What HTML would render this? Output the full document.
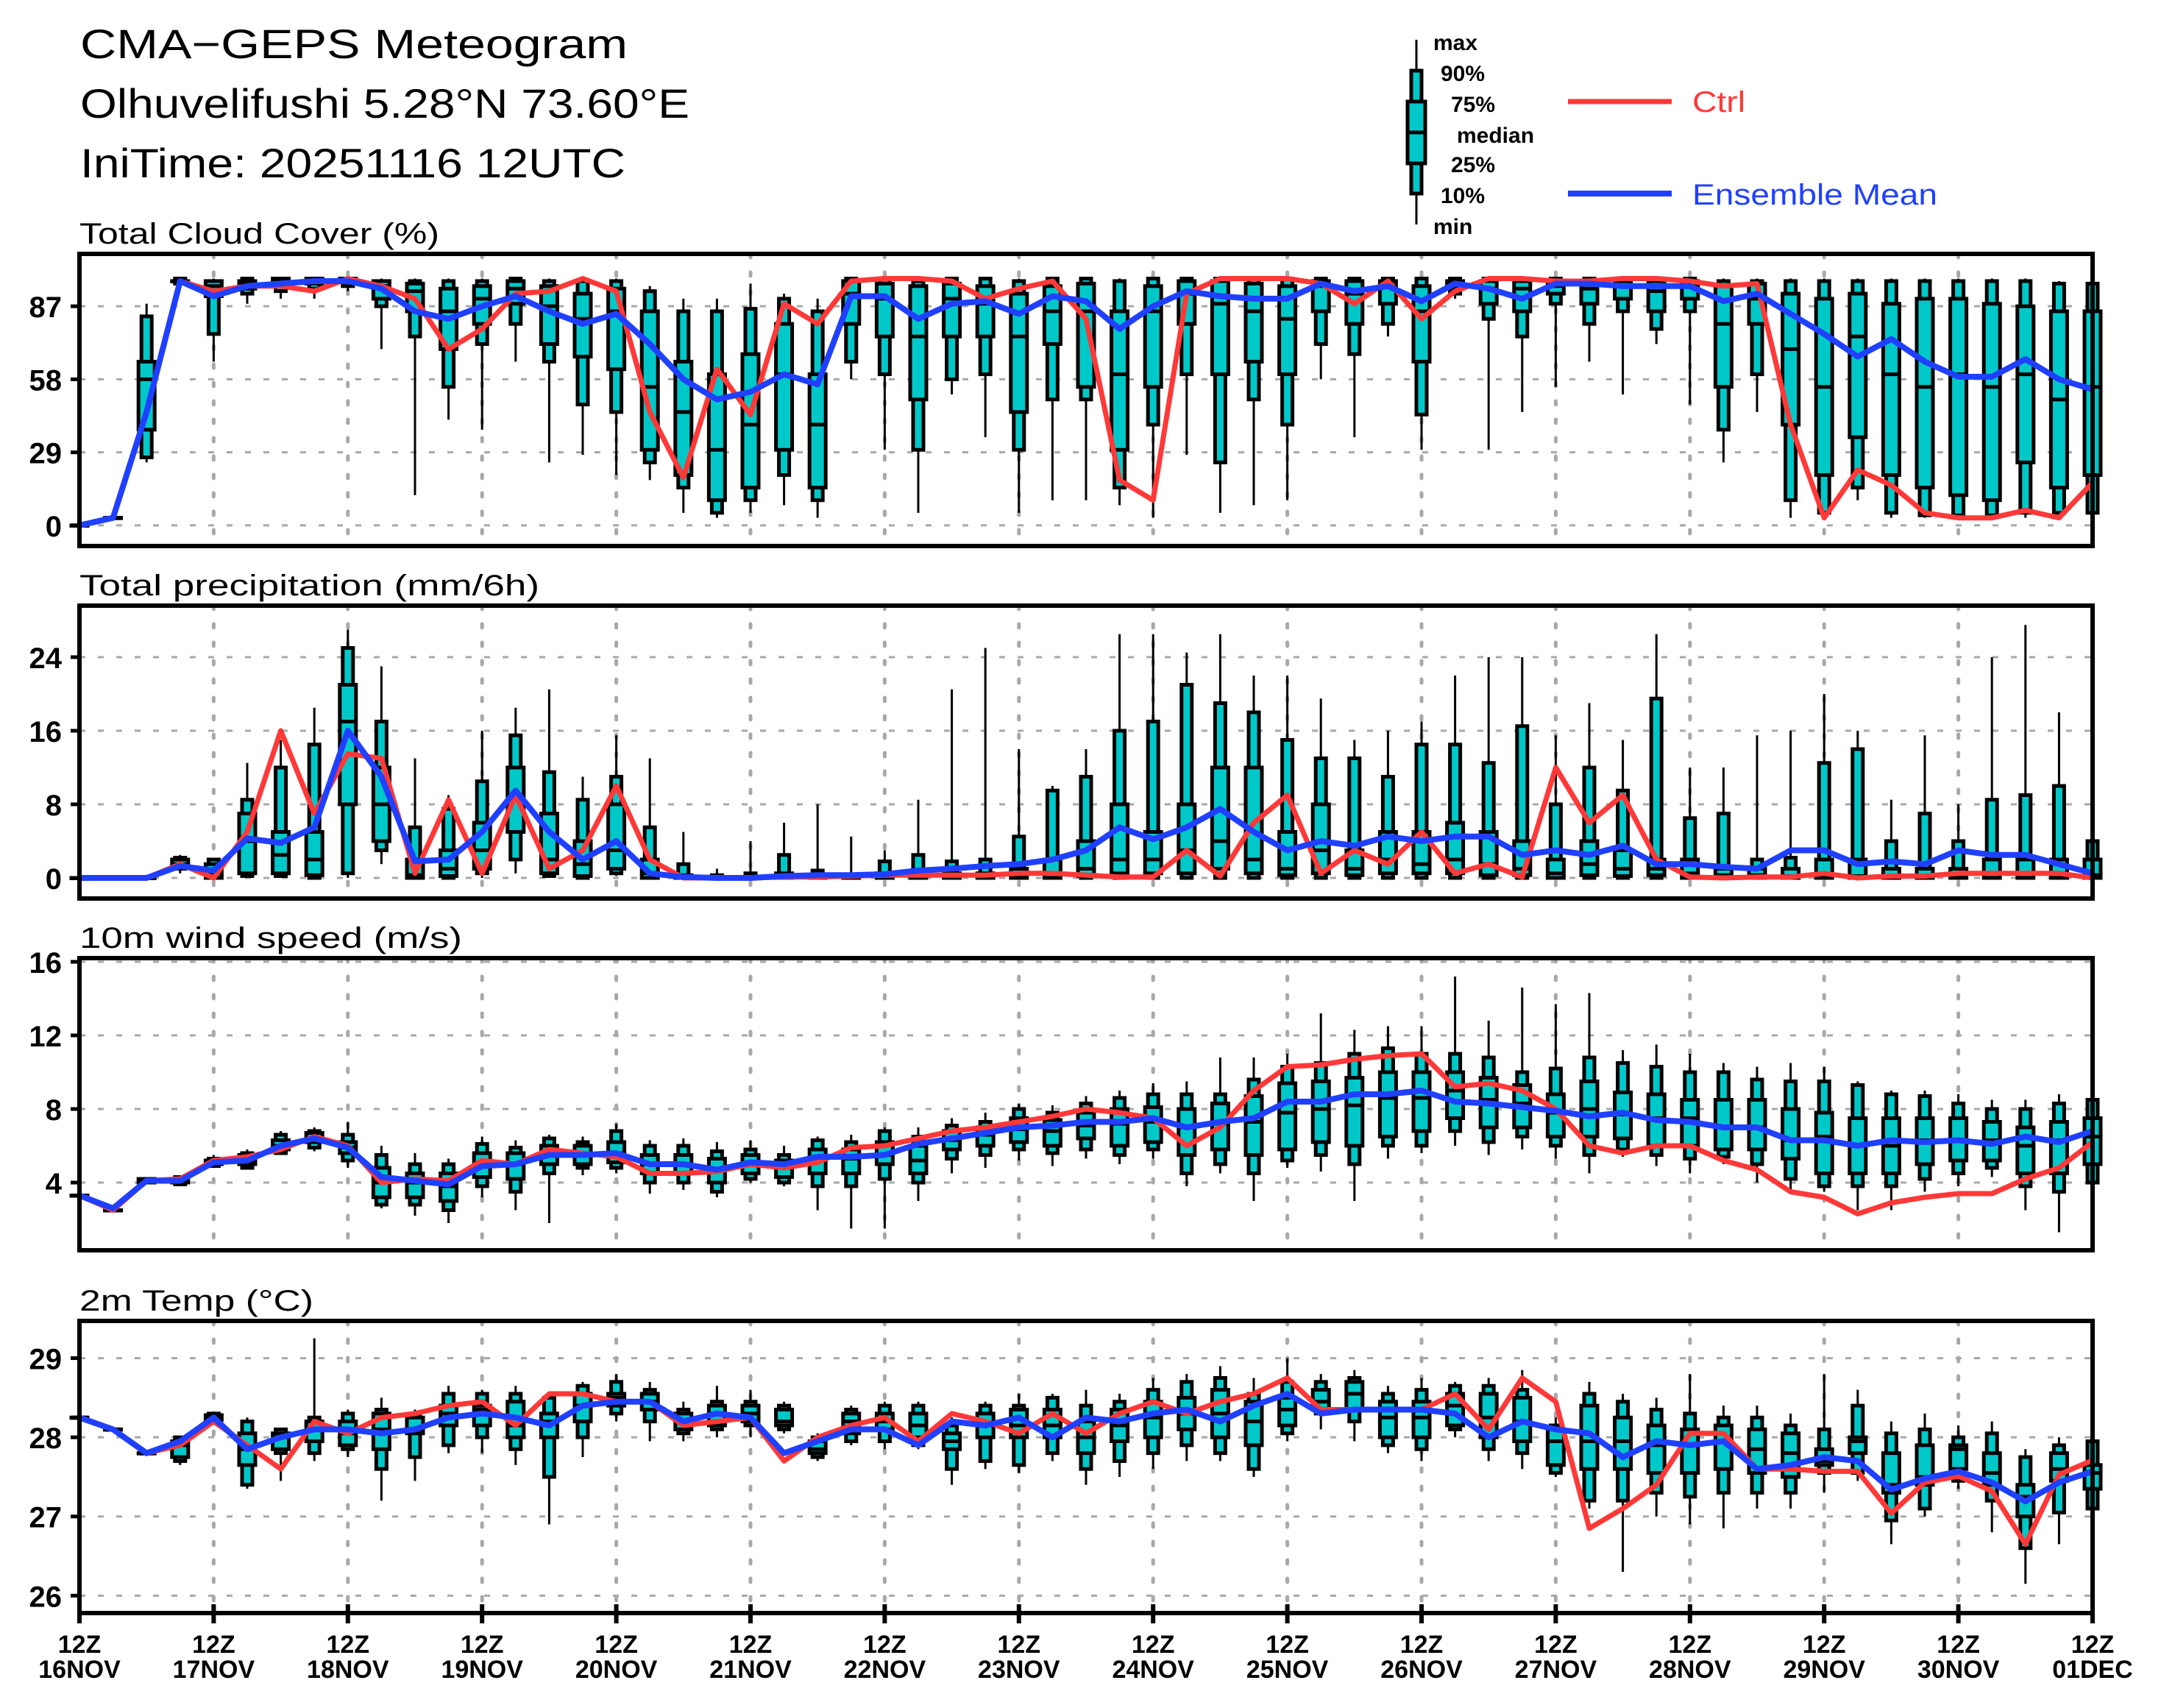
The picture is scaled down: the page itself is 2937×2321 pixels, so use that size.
<!DOCTYPE html>
<html><head><meta charset="utf-8"><title>CMA-GEPS Meteogram</title>
<style>
html,body{margin:0;padding:0;background:#fff;}
svg{display:block;}
text{font-family:"Liberation Sans",sans-serif;fill:#000;}
</style></head>
<body>
<svg id="chart" xmlns="http://www.w3.org/2000/svg" width="2937" height="2321" viewBox="0 0 2937 2321">
<rect x="0" y="0" width="2937" height="2321" fill="#fff"/>
<g>
<text x="109" y="79" font-size="56" textLength="744" lengthAdjust="spacingAndGlyphs">CMA−GEPS Meteogram</text>
<text x="109" y="160" font-size="56" textLength="828" lengthAdjust="spacingAndGlyphs">Olhuvelifushi 5.28°N 73.60°E</text>
<text x="109" y="241" font-size="56" textLength="741" lengthAdjust="spacingAndGlyphs">IniTime: 20251116 12UTC</text>
</g>
<g>
<line x1="1925" y1="54" x2="1925" y2="305" stroke="#000" stroke-width="3"/>
<rect x="1918" y="96" width="14" height="167" fill="#00C8C8" stroke="#000" stroke-width="5"/>
<rect x="1913" y="138" width="24" height="84" fill="#00C8C8" stroke="#000" stroke-width="5"/>
<line x1="1913" y1="180" x2="1937" y2="180" stroke="#000" stroke-width="5"/>
<g font-size="30" font-weight="bold">
<text x="1948" y="68">max</text>
<text x="1958" y="110">90%</text>
<text x="1972" y="152">75%</text>
<text x="1980" y="194">median</text>
<text x="1972" y="234">25%</text>
<text x="1958" y="276">10%</text>
<text x="1948" y="318">min</text>
</g>
<line x1="2131" y1="138" x2="2272" y2="138" stroke="#FF3838" stroke-width="7"/>
<text x="2300" y="152" font-size="40" style="fill:#FF3838" textLength="72" lengthAdjust="spacingAndGlyphs">Ctrl</text>
<line x1="2131" y1="263" x2="2272" y2="263" stroke="#2040FF" stroke-width="8"/>
<text x="2300" y="278" font-size="40" style="fill:#2040FF" textLength="333" lengthAdjust="spacingAndGlyphs">Ensemble Mean</text>
</g>
<g id="panels"></g>
</svg>
<script>
const dayLabels = ["16NOV","17NOV","18NOV","19NOV","20NOV","21NOV","22NOV","23NOV","24NOV","25NOV","26NOV","27NOV","28NOV","29NOV","30NOV","01DEC"];
const nSteps = 61;

const cloudTicks = [0,29,58,87];
const cloudCtrl = [0,3,45,97,93,95,95,93,98,95,90,70,78,92,93,98,93,45,19,62,44,88,80,97,98,98,97,90,94,97,82,18,10,92,98,98,98,96,88,97,82,93,98,98,97,97,98,98,97,95,96,40,3,22,16,5,3,3,6,3,17];
const cloudMean = [0,3,45,97,91,95,96,97,97,94,85,82,87,91,85,80,84,72,58,50,53,60,56,91,91,82,88,89,84,91,89,78,87,93,91,90,90,96,93,95,89,96,94,90,96,96,95,95,95,89,92,84,76,67,74,65,59,59,66,58,54];
const cloudMin = [0,3,25,96,65,88,90,90,93,70,12,42,38,65,25,28,20,18,5,3,5,8,3,58,30,5,52,35,5,10,10,8,3,28,5,8,10,58,35,75,30,90,30,45,55,65,52,72,48,25,45,3,3,10,3,3,3,3,3,3,3];
const cloudP10 = [0,3,27,96,76,92,93,94,95,87,75,55,72,80,65,48,45,25,15,5,10,20,10,65,60,30,58,60,30,50,50,15,40,60,25,50,40,72,68,80,44,92,82,75,88,80,85,78,85,38,60,10,5,15,5,4,4,4,5,5,5];
const cloudP25 = [0,3,38,97,91,94,95,96,97,90,85,70,80,88,72,67,62,30,20,10,15,30,15,80,75,50,75,75,45,72,55,30,55,80,60,65,60,85,80,88,65,94,88,85,92,88,90,85,90,55,80,40,20,35,20,15,12,10,25,15,20];
const cloudMed = [0,3,58,97,95,96,97,97,98,95,93,85,90,94,87,82,85,55,45,30,40,60,40,92,90,75,90,88,75,85,85,60,85,92,88,85,82,95,92,95,85,96,94,94,95,94,95,93,95,80,90,70,55,75,60,55,60,55,60,50,55];
const cloudP75 = [0,3,65,97,97,97,98,98,98,97,96,94,95,97,95,92,94,85,65,60,68,80,60,97,96,95,96,95,92,95,96,85,95,97,97,96,95,97,97,97,95,97,97,97,97,97,97,97,97,95,96,92,90,92,88,90,90,88,87,85,85];
const cloudP90 = [0,3,83,98,97,98,98,98,98,97,97,97,97,98,97,97,97,93,85,85,86,90,85,98,98,97,98,98,97,98,98,97,98,98,98,98,98,98,98,98,98,98,98,98,98,98,98,98,98,97,97,97,97,97,97,97,97,97,97,96,96];
const cloudMax = [0,3,88,98,98,98,98,98,98,98,98,98,98,98,98,98,98,95,90,90,96,92,90,98,98,98,98,98,98,98,98,98,98,98,98,98,98,98,98,98,98,98,98,98,98,98,98,98,98,98,98,98,98,98,98,98,98,98,98,97,97];

const precTicks = [0,8,16,24];
const precCtrl = [0,0,0,1.5,0,5,16,7,13.5,13,0.5,8.5,0.5,9,1,3,10,2,0,0,0,0.1,0.1,0.2,0.3,0.3,0.3,0.3,0.5,0.5,0.3,0.1,0.1,3,0.2,6,9,0.5,3,1.5,5,0.5,1.5,0.1,12,6,9,2,0.1,0,0.1,0.1,0.5,0,0.2,0.2,0.5,0.5,0.5,0.5,0];
const precMean = [0,0,0,1.3,0.8,4.3,3.8,5.5,16,11,1.8,2,5,9.5,5,2,4,0.5,0.1,0,0,0.2,0.3,0.3,0.4,0.8,1,1.3,1.5,2,3,5.5,4.2,5.5,7.5,5,3,4,3.5,4.5,4,4.5,4.5,2.5,3,2.5,3.5,1.5,1.5,1.2,1,3,3,1.5,1.8,1.5,3,2.5,2.5,1.5,0.5];
const precMin = [0,0,0,0.5,0,0,0,0,0,1.5,0,0,0,0.5,0,0,0.2,0,0,0,0,0,0,0,0,0,0,0,0,0,0,0,0,0,0,0,0,0,0,0,0,0,0,0,0,0,0,0,0,0,0,0,0,0,0,0,0,0,0,0,0];
const precP10 = [0,0,0,1,0,0.2,0.2,0,0.5,3,0,0,0.5,2,0.2,0,0.5,0,0,0,0,0,0,0,0,0,0,0,0,0,0,0,0,0,0,0,0,0,0,0,0,0,0,0,0,0,0,0,0,0,0,0,0,0,0,0,0,0,0,0,0];
const precP25 = [0,0,0,1.2,0,0.5,0.5,0.3,8,4,0,0.2,1,5,0.5,0.2,1,0,0,0,0,0,0,0,0,0,0,0,0,0,0.2,0.5,0.5,0.5,1,0.5,0.3,0.5,0.3,0.5,0.5,0.5,0.3,0.3,0,0.3,0.2,0.3,0,0,0,0,0,0,0,0,0,0,0,0,0];
const precMed = [0,0,0,1.5,0.5,4,2.5,2,17,8,0.3,1,3,9,2,1.5,3,0.5,0,0,0,0.1,0,0,0.2,0.2,0.2,0.2,0.2,0.5,1,2,2,3,4,2,1,3,1,2,1.5,2,1.5,1,0.5,1.5,1,1,0.5,0.3,0.3,0.2,0.3,0.2,0.2,0.2,0.2,0.5,0.5,0.5,0.3];
const precP75 = [0,0,0,2,1.5,7,5,5,21,12,2,3,6,12,7,4,8,2,0.3,0,0.1,0.5,0.1,0.1,0.5,0.5,0.5,0.5,1,2,4,8,5,8,12,12,5,8,3,5,5,6,5,4,2,4,3,2,2,1,1,1,2,2,1,1,1,2,2,2,2];
const precP90 = [0,0,0,2.2,2,8.5,12,14.5,25,17,5.5,7.5,10.5,15.5,11.5,8.5,11,5.5,1.5,0.3,0.5,2.5,0.8,0.3,1.8,2.5,1.8,2,4.5,9.5,11,16,17,21,19,18,15,13,13,11,14.5,14.5,12.5,16.5,8,12,9.5,19.5,6.5,7,2,2.2,12.5,14,4,7,4,8.5,9,10,4];
const precMax = [0,0,0,2.5,2.2,12.5,15,18.5,27,23,13,9,16,18.5,20.5,11,15.5,13,5,1,4,6,8,4.5,3,8.5,20.5,25,14,10,14,26.5,26.5,24.5,26.5,22,22,19.5,15,16,17,22,24,24,15.5,19,15,26.5,12,12,15.5,16,20,16,8.5,15.5,8,24,27.5,18,10];

const windTicks = [4,8,12,16];
const windCtrl = [3.3,2.5,4.1,4.2,5.2,5.4,5.8,6.5,6,4,4.2,4.1,5.2,5,5.8,5.6,5.4,4.5,4.5,4.6,5,4.8,5.1,5.9,6,6.4,6.8,7,7.3,7.6,8,7.8,7.5,6,7,9,10.3,10.4,10.7,10.9,11,9.2,9.4,9,8,6,5.6,6,6,5.2,4.7,3.5,3.2,2.3,2.9,3.2,3.4,3.4,4.2,4.8,6.2];
const windMean = [3.3,2.6,4.1,4.1,5.1,5.2,6,6.4,5.9,4.3,4.1,3.9,4.9,5,5.5,5.5,5.6,5,5,4.7,5.1,5,5.4,5.4,5.5,6.1,6.4,6.7,7,7.1,7.3,7.3,7.5,7,7.3,7.5,8.4,8.4,8.8,8.8,9,8.4,8.3,8.1,7.9,7.6,7.8,7.4,7.3,7,7,6.3,6.3,6,6.3,6.2,6.3,6.1,6.5,6.2,6.8];
const windMin = [3.3,2.5,3.9,3.8,4.8,4.7,5.5,5.7,4.8,2.6,2.2,1.8,3.2,2.5,1.8,4.4,4.5,3.4,3.6,3.2,4,3.8,2.5,1.5,1.5,3,4.5,4.8,5.2,4.9,5.3,5,5.3,3.8,4.5,3,4.8,4.6,3,5.3,5.6,6,5.5,5.8,5.3,4.5,5.4,4.9,4.5,5,4,3.5,3.5,2.5,2.5,3.5,3.8,4.3,2.5,1.3,2];
const windP10 = [3.3,2.5,4,3.9,4.9,4.8,5.6,5.9,5.2,2.8,2.8,2.5,3.8,3.5,4.5,4.8,4.8,4,4,3.5,4.2,4,3.8,3.8,4.2,4,5.3,5.5,5.8,5.6,5.8,5.5,5.8,4.5,5,4.5,5.2,5.5,5,6,6,6.8,6.2,6.5,6,5.5,5.8,5.5,5.3,5.4,5,4.2,3.8,3.8,3.8,4.2,4.5,4.8,3.8,3.5,4];
const windP25 = [3.3,2.5,4,4,5,5,5.8,6.2,5.6,3.2,3.2,3,4.3,4.2,5,5,5.1,4.5,4.5,4,4.5,4.3,4.5,4.5,5,4.5,5.8,6,6.2,6,6.4,6,6.2,5.5,5.8,5.5,5.8,6.2,6,6.5,6.8,7.5,7,7,6.5,6.5,6.4,6,6,5.8,5.8,5.3,4.5,4.5,4.5,5,5.2,5.2,4.5,4.5,5];
const windMed = [3.3,2.5,4.1,4.1,5.1,5.2,6,6.4,5.9,4,4,3.8,4.9,5,5.6,5.5,5.6,5,5,4.7,5,4.8,5.3,5.3,5.5,5.2,6.3,6.6,6.9,6.8,7.1,7.2,7.3,7,7.2,7.3,7.8,8,8.2,8.6,8.6,9,8.5,8.3,7.8,8,7.7,7.5,7.5,7,7,6.3,6.5,6,6,6.3,6.3,6.3,6,6.3,6.5];
const windP75 = [3.3,2.5,4.2,4.2,5.2,5.5,6.3,6.7,6.2,4.8,4.5,4.5,5.6,5.6,6,6,6.2,5.5,5.5,5.3,5.5,5.2,5.8,5.8,6.2,6,6.8,7,7.5,7.4,7.8,8,8.1,8,8.3,8.7,9.4,9.5,9.7,10,10,10,9.7,9.3,8.8,9.5,8.9,8.8,8.5,8.5,8.5,8,7.8,7.5,7.5,7.5,7.5,7.3,7,7.3,7.5];
const windP90 = [3.3,2.5,4.2,4.3,5.3,5.6,6.6,6.8,6.6,5.5,5,5,6.1,5.9,6.4,6.2,6.8,6,6,5.7,5.8,5.5,6.3,6.2,6.8,6.5,7.1,7.3,8,7.8,8.3,8.6,8.8,8.8,8.8,9.6,10.3,10.5,11,11.3,11,11,10.8,10,10.2,10.8,10.5,10.3,10,10,9.6,9.5,9.5,9.3,8.8,8.7,8.3,8,8,8.3,8.5];
const windMax = [3.3,2.5,4.2,4.4,5.5,5.8,6.8,7,7.3,6,5.6,5.3,6.5,6.3,6.6,6.5,7.2,6.3,6.4,6.2,6.3,6,6.5,6.6,7,7,7.5,7.8,8.3,8.2,8.7,9,9.4,9.5,10.8,10.8,11,13.2,12.3,12.5,12.5,15.2,12.8,14.6,13.7,14.3,11.2,11.5,11,10.5,10.3,10.5,10.3,9.5,9,9,8.8,8.5,8.5,8.8,8.6];

const tempTicks = [26,27,28,29];
const tempCtrl = [28.25,28.1,27.8,27.9,28.2,27.9,27.6,28.2,28.05,28.25,28.3,28.4,28.45,28.15,28.55,28.55,28.45,28.45,28.15,28.2,28.25,27.7,28.0,28.15,28.25,27.95,28.3,28.2,28.05,28.3,28.05,28.3,28.45,28.3,28.45,28.55,28.75,28.35,28.35,28.35,28.35,28.55,28.1,28.75,28.45,26.85,27.1,27.4,28.05,28.05,27.6,27.6,27.57,27.57,27.04,27.43,27.51,27.32,26.65,27.53,27.71];
const tempMean = [28.25,28.1,27.8,27.95,28.25,27.85,28.0,28.1,28.1,28.05,28.1,28.25,28.3,28.25,28.15,28.4,28.45,28.45,28.2,28.3,28.25,27.8,27.95,28.1,28.1,27.9,28.2,28.15,28.25,28.0,28.25,28.2,28.3,28.35,28.2,28.4,28.55,28.3,28.35,28.35,28.35,28.3,28.0,28.2,28.1,28.05,27.75,27.95,27.9,27.95,27.6,27.65,27.75,27.7,27.34,27.48,27.57,27.43,27.19,27.43,27.57];
const tempMin = [28.25,28.1,27.8,27.65,28.2,27.35,27.45,27.7,27.75,27.2,27.45,27.8,27.8,27.65,26.9,27.75,28.2,27.95,27.95,28,28,28.05,27.7,27.9,27.85,27.85,27.4,27.6,27.55,27.7,27.4,27.5,27.6,27.7,27.7,27.5,27.95,28.1,27.95,27.8,27.7,28.0,27.7,27.6,27.5,27.1,26.3,27.0,26.9,26.85,27.1,27.1,27.3,27.45,26.65,27.0,27.35,26.8,26.15,26.65,26.9];
const tempP10 = [28.25,28.1,27.8,27.7,28.2,27.4,27.8,27.8,27.85,27.6,27.75,27.9,28,27.85,27.5,28,28.3,28.2,28.05,28.1,28.15,28.1,27.75,27.95,27.95,27.9,27.6,27.7,27.65,27.8,27.6,27.7,27.8,27.9,27.8,27.6,28.05,28.3,28.2,27.9,27.85,28.1,27.85,27.8,27.55,27.2,27.2,27.3,27.25,27.3,27.3,27.3,27.55,27.55,26.95,27.1,27.45,27.2,26.6,27.05,27.1];
const tempP25 = [28.25,28.1,27.8,27.75,28.22,27.65,27.85,27.95,27.9,27.85,28.05,28.15,28.15,28,28,28.2,28.4,28.35,28.1,28.15,28.2,28.15,27.8,28.05,28.1,28,27.85,28,28,28,27.8,27.95,28,28.1,28,27.9,28.15,28.35,28.35,28,28,28.15,28,27.95,27.65,27.6,27.6,27.55,27.55,27.6,27.55,27.5,27.65,27.8,27.3,27.4,27.6,27.4,27.0,27.45,27.35];
const tempMed = [28.25,28.1,27.8,27.9,28.25,27.85,28,28.1,28.05,28.1,28.1,28.3,28.35,28.15,28.2,28.4,28.5,28.45,28.2,28.3,28.3,28.2,27.85,28.2,28.2,28.15,27.95,28.15,28.15,28.15,28,28.15,28.25,28.3,28.3,28.2,28.35,28.45,28.55,28.25,28.25,28.4,28.25,28.2,27.95,27.95,27.95,27.9,27.9,27.95,27.85,27.8,27.7,27.95,27.4,27.5,27.85,27.55,27.25,27.6,27.55];
const tempP75 = [28.25,28.1,27.8,27.95,28.28,28.05,28.05,28.2,28.2,28.3,28.25,28.4,28.4,28.45,28.3,28.55,28.55,28.55,28.3,28.4,28.4,28.35,27.95,28.3,28.3,28.3,28.05,28.3,28.35,28.35,28.2,28.35,28.45,28.5,28.6,28.45,28.5,28.6,28.7,28.45,28.45,28.55,28.55,28.5,28.1,28.4,28.25,28.15,28.1,28.15,28.1,28.05,27.85,28.0,27.8,27.9,27.9,27.8,27.4,27.8,27.65];
const tempP90 = [28.25,28.1,27.8,28,28.3,28.2,28.1,28.25,28.3,28.35,28.3,28.55,28.55,28.55,28.5,28.65,28.7,28.6,28.35,28.45,28.45,28.4,28,28.35,28.4,28.4,28.15,28.4,28.4,28.5,28.4,28.45,28.6,28.7,28.75,28.55,28.7,28.7,28.75,28.55,28.6,28.65,28.65,28.6,28.15,28.55,28.45,28.35,28.3,28.25,28.25,28.15,28.1,28.4,28.05,28.1,28.0,28.05,27.75,27.9,27.95];
const tempMax = [28.25,28.1,27.8,28,28.3,28.25,28.1,29.25,28.35,28.5,28.35,28.65,28.6,28.65,28.55,28.7,28.8,28.7,28.45,28.65,28.6,28.45,28.05,28.4,28.45,28.45,28.25,28.45,28.55,28.55,28.6,28.55,28.75,28.8,28.9,28.75,29.0,28.8,28.85,28.65,28.75,28.7,28.75,28.85,28.25,28.7,28.55,28.5,28.8,28.4,28.4,28.3,28.8,28.6,28.2,28.3,28.15,28.2,27.85,28.0,28.1];

const NS = "http://www.w3.org/2000/svg";
const X0 = 108, X1 = 2844;
function xAt(i){ return X0 + (X1 - X0) * i / (nSteps - 1); }

function mk(parent, tag, attrs){
  const el = document.createElementNS(NS, tag);
  for (const k in attrs) el.setAttribute(k, attrs[k]);
  parent.appendChild(el);
  return el;
}

const panelsG = document.getElementById('panels');

function drawPanel(cfg){
  const g = mk(panelsG, 'g', {});
  
  
  const yAt = v => cfg.bottom - (v - cfg.vmin) * (cfg.bottom - cfg.top) / (cfg.vmax - cfg.vmin);

  const t = mk(g, 'text', {x: 108, y: cfg.top - 14, 'font-size': 40, textLength: cfg.titleLen, lengthAdjust: 'spacingAndGlyphs'});
  t.textContent = cfg.title;
  
  

  cfg.ticks.forEach(v => {
    const y = yAt(v);
    const gl = mk(g, 'line', {x1: X0, y1: y, x2: X1, y2: y, stroke: '#a8a8a8', 'stroke-width': 3, 'stroke-dasharray': '8 17'});
    
    
    mk(g, 'line', {x1: X0 - 12, y1: y, x2: X0, y2: y, stroke: '#000', 'stroke-width': 5});
    const tl = mk(g, 'text', {x: 84, y: y + 15, 'font-size': 40, 'font-weight': 'bold', 'text-anchor': 'end'});
    tl.textContent = String(v);
    
    
  });
  for (let d = 1; d < dayLabels.length - 1; d++) {
    const x = xAt(d * 4);
    const vl = mk(g, 'line', {x1: x, y1: cfg.top, x2: x, y2: cfg.bottom, stroke: '#a8a8a8', 'stroke-width': 5, 'stroke-dasharray': '5 20', 'stroke-linecap': 'round'});
    
    
  }

  for (let i = 0; i < nSteps; i++) {
    const x = xAt(i);
    const bg = mk(g, 'g', {});
    
    
    mk(bg, 'line', {x1: x, y1: yAt(cfg.max[i]), x2: x, y2: yAt(cfg.min[i]), stroke: '#000', 'stroke-width': 3});
    const y90 = yAt(cfg.p90[i]), y10 = yAt(cfg.p10[i]);
    mk(bg, 'rect', {x: x - 7, y: y90, width: 14, height: Math.max(0.5, y10 - y90), fill: '#00C8C8', stroke: '#000', 'stroke-width': 5});
    const y75 = yAt(cfg.p75[i]), y25 = yAt(cfg.p25[i]);
    mk(bg, 'rect', {x: x - 11, y: y75, width: 22, height: Math.max(0.5, y25 - y75), fill: '#00C8C8', stroke: '#000', 'stroke-width': 5});
    const ym = yAt(cfg.med[i]);
    mk(bg, 'line', {x1: x - 11, y1: ym, x2: x + 11, y2: ym, stroke: '#000', 'stroke-width': 5});
  }

  const ptsC = cfg.ctrl.map((v, i) => xAt(i).toFixed(1) + ',' + yAt(v).toFixed(1)).join(' ');
  const pc = mk(g, 'polyline', {points: ptsC, fill: 'none', stroke: '#FF3838', 'stroke-width': 7, 'stroke-linejoin': 'round'});
  
  
  const ptsM = cfg.mean.map((v, i) => xAt(i).toFixed(1) + ',' + yAt(v).toFixed(1)).join(' ');
  const pm = mk(g, 'polyline', {points: ptsM, fill: 'none', stroke: '#2040FF', 'stroke-width': 8, 'stroke-linejoin': 'round'});
  
  

  const fr = mk(g, 'rect', {x: X0, y: cfg.top, width: X1 - X0, height: cfg.bottom - cfg.top, fill: 'none', stroke: '#000', 'stroke-width': 6});
  
  
}

drawPanel({name:'cloud-cover', title:'Total Cloud Cover (%)', titleLen:489, top:345, bottom:742, vmin:-8.2, vmax:107.8, ticks:cloudTicks,
  ctrl:cloudCtrl, mean:cloudMean, min:cloudMin, p10:cloudP10, p25:cloudP25, med:cloudMed, p75:cloudP75, p90:cloudP90, max:cloudMax});
drawPanel({name:'precipitation', title:'Total precipitation (mm/6h)', titleLen:625, top:823, bottom:1221, vmin:-2.24, vmax:29.6, ticks:precTicks,
  ctrl:precCtrl, mean:precMean, min:precMin, p10:precP10, p25:precP25, med:precMed, p75:precP75, p90:precP90, max:precMax});
drawPanel({name:'wind-speed', title:'10m wind speed (m/s)', titleLen:520, top:1302, bottom:1699, vmin:0.32, vmax:16.2, ticks:windTicks,
  ctrl:windCtrl, mean:windMean, min:windMin, p10:windP10, p25:windP25, med:windMed, p75:windP75, p90:windP90, max:windMax});
drawPanel({name:'temperature', title:'2m Temp (°C)', titleLen:318, top:1795, bottom:2192, vmin:25.78, vmax:29.47, ticks:tempTicks,
  ctrl:tempCtrl, mean:tempMean, min:tempMin, p10:tempP10, p25:tempP25, med:tempMed, p75:tempP75, p90:tempP90, max:tempMax});

const xg = mk(panelsG, 'g', {});


dayLabels.forEach((lab, d) => {
  const x = xAt(d * 4);
  mk(xg, 'line', {x1: x, y1: 2180, x2: x, y2: 2206, stroke: '#000', 'stroke-width': 6});
  const t1 = mk(xg, 'text', {x: x, y: 2246, 'font-size': 34, 'font-weight': 'bold', 'text-anchor': 'middle'});
  t1.textContent = '12Z';
  
  
  const t2 = mk(xg, 'text', {x: x, y: 2280, 'font-size': 34, 'font-weight': 'bold', 'text-anchor': 'middle'});
  t2.textContent = lab;
  
  
});
</script>
</body></html>
